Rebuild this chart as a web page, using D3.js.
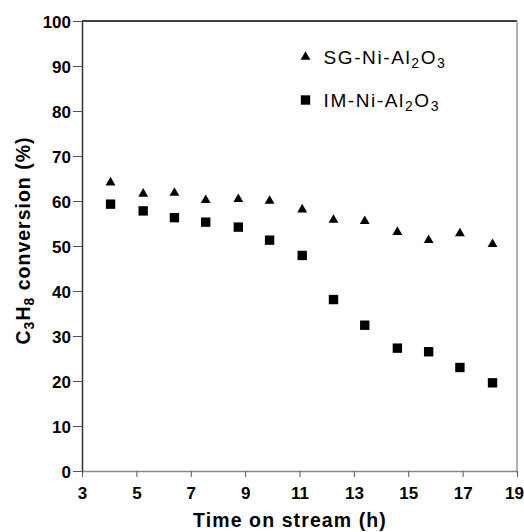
<!DOCTYPE html>
<html>
<head>
<meta charset="utf-8">
<script src="https://cdn.jsdelivr.net/npm/d3@7"></script>
<style>
  body { margin: 0; background: #fff; }
  text { font-family: Arial, "Liberation Sans", sans-serif; fill: #000; }
</style>
</head>
<body>
<svg id="chart"></svg>
<script>
// time on stream (h)
const hours = [4.05, 5.25, 6.4, 7.55, 8.75, 9.9, 11.1, 12.25, 13.4, 14.6, 15.75, 16.9, 18.1];
// C3H8 conversion (%)
const sgValues = [64.1, 61.6, 61.8, 60.2, 60.4, 60.0, 58.1, 55.8, 55.5, 53.1, 51.3, 52.8, 50.4];
const imValues = [59.3, 57.8, 56.3, 55.3, 54.2, 51.3, 47.9, 38.1, 32.4, 27.3, 26.5, 23.0, 19.6];
const xTicks = [3, 5, 7, 9, 11, 13, 15, 17, 19];
const yTicks = [0, 10, 20, 30, 40, 50, 60, 70, 80, 90, 100];

const width = 524, height = 532;
const margin = { top: 21, right: 7, bottom: 61, left: 82 };
const FONT = "Arial, 'Liberation Sans', sans-serif";

const svg = d3.select("#chart").attr("width", width).attr("height", height);

const X = d3.scaleLinear().domain([3, 19]).range([margin.left, width - margin.right]);
const Y = d3.scaleLinear().domain([0, 100]).range([height - margin.bottom, margin.top]);

// frame
svg.append("line")
  .attr("x1", X(3)).attr("x2", X(19)).attr("y1", Y(100)).attr("y2", Y(100))
  .style("stroke", "#000").style("stroke-width", 1.5);
svg.append("line")
  .attr("x1", X(19)).attr("x2", X(19)).attr("y1", Y(100)).attr("y2", Y(0))
  .style("stroke", "#999").style("stroke-width", 1.5);

const xAxis = d3.axisBottom(X).tickValues(xTicks).tickSizeInner(6).tickSizeOuter(0);
const yAxis = d3.axisLeft(Y).tickValues(yTicks).tickSizeInner(9).tickSizeOuter(0).tickPadding(2);

const gx = svg.append("g")
  .attr("transform", `translate(0,${Y(0)})`)
  .call(xAxis);
gx.select(".domain").style("stroke", "#888").style("stroke-width", 1.5);
gx.selectAll(".tick line").style("stroke", "#555");
gx.selectAll(".tick text")
  .attr("y", 27.5).attr("dy", 0)
  .attr("dx", (d) => (d === 19 ? -3 : 0))
  .style("font-family", FONT).style("font-size", "17px").style("font-weight", "bold")
  .style("fill", "#000");

const gy = svg.append("g")
  .attr("transform", `translate(${X(3)},0)`)
  .call(yAxis);
gy.select(".domain").style("stroke", "#333").style("stroke-width", 1.5);
gy.selectAll(".tick line").style("stroke", "#555");
gy.selectAll(".tick text")
  .attr("dy", "0.36em")
  .style("font-family", FONT).style("font-size", "17px").style("font-weight", "bold")
  .style("fill", "#000");

// axis titles
svg.append("text")
  .attr("x", 290).attr("y", 526.5)
  .attr("text-anchor", "middle")
  .style("font-size", "19.5px").style("font-weight", "bold").style("letter-spacing", "1.1px")
  .text("Time on stream (h)");

const ytitle = svg.append("text")
  .attr("transform", "translate(29.5,240.5) rotate(-90)")
  .attr("text-anchor", "middle")
  .style("font-size", "19.5px").style("font-weight", "bold").style("letter-spacing", "1px");
ytitle.append("tspan").text("C");
ytitle.append("tspan").text("3").style("font-size", "14px").attr("dy", 4);
ytitle.append("tspan").text("H").attr("dy", -4);
ytitle.append("tspan").text("8").style("font-size", "14px").attr("dy", 4);
ytitle.append("tspan").text(" conversion (%)").attr("dy", -4);

// markers
const tri = d3.symbol().type(d3.symbolTriangle).size(42);
const sq = d3.symbol().type(d3.symbolSquare).size(88);

svg.append("g").selectAll("path")
  .data(hours.map((h, i) => ({ h, v: sgValues[i] })))
  .join("path")
  .attr("d", tri)
  .attr("transform", (d) => `translate(${X(d.h)},${Y(d.v)})`)
  .style("fill", "#000");

svg.append("g").selectAll("path")
  .data(hours.map((h, i) => ({ h, v: imValues[i] })))
  .join("path")
  .attr("d", sq)
  .attr("transform", (d) => `translate(${X(d.h)},${Y(d.v)})`)
  .style("fill", "#000");

// legend
const legend = [
  { sym: tri, name: "SG-Ni-Al", y: 57, base: 64 },
  { sym: sq, name: "IM-Ni-Al", y: 100, base: 107 },
];
legend.forEach((l) => {
  svg.append("path").attr("d", l.sym)
    .attr("transform", `translate(305.5,${l.y})`)
    .style("fill", "#000");
  const t = svg.append("text")
    .attr("x", 323.5).attr("y", l.base)
    .style("font-size", "19px").style("letter-spacing", "1.6px");
  t.append("tspan").text(l.name);
  t.append("tspan").text("2").style("font-size", "14px").attr("dy", 4);
  t.append("tspan").text("O").attr("dy", -4);
  t.append("tspan").text("3").style("font-size", "14px").attr("dy", 4);
});
</script>
</body>
</html>
